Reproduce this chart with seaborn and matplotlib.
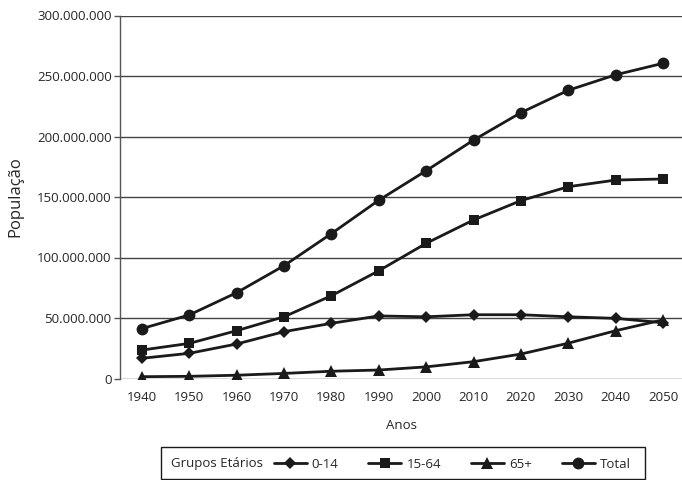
import numpy as np
import pandas as pd
import seaborn as sns
import matplotlib.pyplot as plt
from matplotlib.lines import Line2D
from matplotlib.patches import Rectangle
from matplotlib.ticker import FuncFormatter

anos = [1940, 1950, 1960, 1970, 1980, 1990, 2000, 2010, 2020, 2030, 2040, 2050]
pop_0_14 = [16.7, 20.8, 28.5, 38.7, 45.6, 51.7, 51.0, 52.7, 52.7, 51.0, 49.7, 46.1]
pop_15_64 = [23.5, 29.0, 39.5, 51.0, 68.4, 89.0, 111.7, 131.0, 147.0, 158.5, 164.0, 164.9]
pop_65 = [1.5, 1.8, 2.7, 4.2, 6.0, 7.0, 9.6, 13.9, 20.2, 29.2, 39.5, 48.5]
pop_total = [41.2, 52.5, 70.9, 93.2, 119.7, 147.3, 171.7, 197.0, 219.7, 238.2, 251.0, 260.5]

grupos = ["0-14", "15-64", "65+", "Total"]
marcadores = {"0-14": "D", "15-64": "s", "65+": "^", "Total": "o"}
tamanhos = {"0-14": 6.5, "15-64": 7.5, "65+": 8, "Total": 8.5}

df = pd.DataFrame({
    "Ano": anos * 4,
    "Pop": np.array(pop_0_14 + pop_15_64 + pop_65 + pop_total) * 1e6,
    "Grupo": [g for g in grupos for _ in anos],
})

sns.set_style("white")
plt.rcParams["font.family"] = ["Open Sans", "DejaVu Sans"]

fig = plt.figure(figsize=(6.82, 4.8), dpi=100)
ax = fig.add_axes([120 / 682, 1 - 378.5 / 480, 562 / 682, 363 / 480])

for g in grupos:
    sub = df[df["Grupo"] == g]
    sns.lineplot(data=sub, x="Ano", y="Pop", ax=ax, color="#1a1a1a", lw=2,
                 marker=marcadores[g], markersize=tamanhos[g],
                 markeredgewidth=0, legend=False, zorder=3)

ax.set_xlim(1935.4, 2054)
ax.set_ylim(0, 300e6)
ax.set_xticks(anos)
ax.set_yticks(np.arange(0, 300e6 + 1, 50e6))
ax.yaxis.set_major_formatter(FuncFormatter(lambda v, p: f"{int(v):,}".replace(",", ".")))
ax.grid(axis="y", color="#444444", lw=1)
ax.set_axisbelow(True)
for s in ["top", "right", "bottom"]:
    ax.spines[s].set_visible(False)
ax.spines["left"].set_color("#555555")
ax.spines["left"].set_linewidth(1)
ax.tick_params(axis="y", length=4, width=1, color="#555555", labelsize=9.5, pad=2, left=True)
ax.tick_params(axis="x", length=0, labelsize=9.5, pad=9)
ax.set_xlabel("Anos", fontsize=9.5, labelpad=11)
ax.set_ylabel("População", fontsize=12, labelpad=10)

# legenda em caixa com o titulo a esquerda
fig.add_artist(Rectangle((161 / 682, 1 / 480), 484 / 682, 32 / 480,
                         transform=fig.transFigure, fill=False,
                         edgecolor="#1a1a1a", lw=1))
fig.text(171 / 682, 1 - 464 / 480, "Grupos Etários", fontsize=9.5, va="center")
handles = [Line2D([], [], color="#1a1a1a", lw=2, marker=marcadores[g],
                  markersize=tamanhos[g], markeredgewidth=0) for g in grupos]
fig.legend(handles, grupos, loc="center left", bbox_to_anchor=(267 / 682, 1 - 464 / 480),
           ncol=4, frameon=False, fontsize=9.5, borderpad=0, handlelength=2.5,
           handletextpad=0.4, columnspacing=2.25)

fig.savefig("out.png", dpi=100)
